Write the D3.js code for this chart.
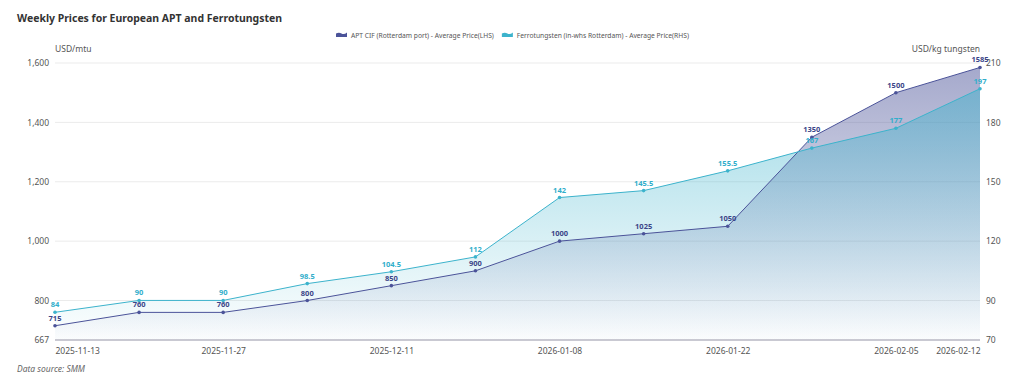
<!DOCTYPE html>
<html>
<head>
<meta charset="utf-8">
<script src="https://cdn.jsdelivr.net/npm/d3@7"></script>
<style>
body { margin: 0; background: #fff; }
svg { display: block; font-family: "Noto Sans", sans-serif; }
</style>
</head>
<body>
<div id="chart"></div>
<script>
// weekly dates (holiday weeks skipped)
var dates = ["2025-11-13", "2025-11-20", "2025-11-27", "2025-12-04", "2025-12-11", "2025-12-18",
	"2026-01-08", "2026-01-15", "2026-01-22", "2026-01-29", "2026-02-05", "2026-02-12"];
var aptPrices = [715, 760, 760, 800, 850, 900, 1000, 1025, 1050, 1350, 1500, 1585];
var ferroPrices = [84, 90, 90, 98.5, 104.5, 112, 142, 145.5, 155.5, 167, 177, 197];
var dateTicks = ["2025-11-13", "2025-11-27", "2025-12-11", "2026-01-08", "2026-01-22", "2026-02-05", "2026-02-12"];
var leftTicks = [667, 800, 1000, 1200, 1400, 1600];
var rightTicks = [70, 90, 120, 150, 180, 210];
var seriesNames = ["APT CIF (Rotterdam port) - Average Price(LHS)", "Ferrotungsten (in-whs Rotterdam) - Average Price(RHS)"];

var W = 1024, H = 385;
var margin = {left: 55, right: 44, top: 63, bottom: 45};
var width = W - margin.left - margin.right,
	height = H - margin.top - margin.bottom;

var aptColor = "#4b5399", ferroColor = "#3cb3cc";
var aptLabel = "#3b4588", ferroLabel = "#31aecb";

var svg = d3.select("#chart").append("svg")
	.attr("width", W)
	.attr("height", H);

var defs = svg.append("defs");
function grad(id, color, top) {
	var g = defs.append("linearGradient").attr("id", id)
		.attr("x1", 0).attr("y1", 0).attr("x2", 0).attr("y2", 1);
	g.append("stop").attr("offset", "0%").attr("stop-color", color).attr("stop-opacity", top);
	g.append("stop").attr("offset", "100%").attr("stop-color", color).attr("stop-opacity", 0.01);
}
grad("gApt", aptColor, 0.5);
grad("gFerro", ferroColor, 0.48);

// title
svg.append("text")
	.attr("x", 17).attr("y", 22)
	.attr("font-size", "11px")
	.attr("font-weight", "bold")
	.attr("fill", "#333")
	.attr("textLength", 265)
	.attr("lengthAdjust", "spacingAndGlyphs")
	.text("Weekly Prices for European APT and Ferrotungsten");

var canvas = svg.append("g")
	.attr("transform", "translate(" + margin.left + "," + margin.top + ")");

var x = d3.scalePoint().domain(dates).range([0, width]);
var yL = d3.scaleLinear().domain([667, 1600]).range([height, 0]);
var yR = d3.scaleLinear().domain([70, 210]).range([height, 0]);

// gridlines
canvas.selectAll(".grid")
	.data(leftTicks.slice(1))
	.enter().append("line")
	.attr("x1", 0).attr("x2", width)
	.attr("y1", function(d){ return yL(d); })
	.attr("y2", function(d){ return yL(d); })
	.attr("stroke", "#ebebeb");

// left axis
var yAxisL = d3.axisLeft(yL).tickValues(leftTicks).tickSize(0).tickPadding(6)
	.tickFormat(d3.format(","));
canvas.append("g").attr("class", "y axis").call(yAxisL)
	.call(function(g){ g.select(".domain").remove(); })
	.selectAll("text").attr("font-size", "8.5px").attr("fill", "#555").attr("font-family", "Noto Sans");

var yAxisR = d3.axisRight(yR).tickValues(rightTicks).tickSize(0).tickPadding(6);
canvas.append("g").attr("class", "y2 axis")
	.attr("transform", "translate(" + width + ",0)")
	.call(yAxisR)
	.call(function(g){ g.select(".domain").remove(); })
	.selectAll("text").attr("font-size", "8.5px").attr("fill", "#555").attr("font-family", "Noto Sans");

// axis names
canvas.append("text").attr("x", 0).attr("y", -11)
	.attr("font-size", "8.5px").attr("fill", "#555").text("USD/mtu");
canvas.append("text").attr("x", width).attr("y", -11)
	.attr("text-anchor", "end")
	.attr("font-size", "8.5px").attr("fill", "#555").text("USD/kg tungsten");

// areas
var aptArea = d3.area()
	.x(function(d, i){ return x(dates[i]); })
	.y0(height)
	.y1(function(d){ return yL(d); });
var ferroArea = d3.area()
	.x(function(d, i){ return x(dates[i]); })
	.y0(height)
	.y1(function(d){ return yR(d); });

canvas.append("path").datum(aptPrices)
	.attr("d", aptArea).attr("fill", "url(#gApt)");
canvas.append("path").datum(ferroPrices)
	.attr("d", ferroArea).attr("fill", "url(#gFerro)");

var aptLine = d3.line()
	.x(function(d, i){ return x(dates[i]); })
	.y(function(d){ return yL(d); });
var ferroLine = d3.line()
	.x(function(d, i){ return x(dates[i]); })
	.y(function(d){ return yR(d); });

canvas.append("path").datum(aptPrices)
	.attr("d", aptLine).attr("fill", "none").attr("stroke", aptColor).attr("stroke-width", 1);
canvas.append("path").datum(ferroPrices)
	.attr("d", ferroLine).attr("fill", "none").attr("stroke", ferroColor).attr("stroke-width", 1);

// x axis
canvas.append("line")
	.attr("x1", 0).attr("x2", width)
	.attr("y1", height).attr("y2", height)
	.attr("stroke", "#c9c9d2").attr("stroke-width", 2);

var xAxisCall = d3.axisBottom(x).tickValues(dateTicks).tickSize(0).tickPadding(8);
var xg = canvas.append("g").attr("class", "x axis")
	.attr("transform", "translate(0," + height + ")")
	.call(xAxisCall);
xg.select(".domain").remove();
xg.selectAll("text")
	.attr("font-size", "8.5px").attr("fill", "#555").attr("font-family", "Noto Sans")
	.attr("text-anchor", function(d, i){
		if (i == 0) return "start";
		if (i == dateTicks.length - 1) return "end";
		return "middle";
	});

// points and labels
function drawSeries(vals, yScale, color, labelColor, cls) {
	canvas.selectAll("circle." + cls)
		.data(vals).enter().append("circle")
		.attr("class", cls)
		.attr("cx", function(d, i){ return x(dates[i]); })
		.attr("cy", function(d){ return yScale(d); })
		.attr("r", 1.8)
		.attr("fill", color);
	canvas.selectAll("text." + cls)
		.data(vals).enter().append("text")
		.attr("class", cls)
		.attr("x", function(d, i){ return x(dates[i]); })
		.attr("y", function(d){ return yScale(d) - 5; })
		.attr("text-anchor", "middle")
		.attr("font-size", "7.5px")
		.attr("font-weight", "bold")
		.attr("fill", labelColor)
		.text(function(d){ return d; });
}
drawSeries(aptPrices, yL, aptColor, aptLabel, "apt");
drawSeries(ferroPrices, yR, ferroColor, ferroLabel, "ferro");

// legend
var legend = svg.append("g").attr("transform", "translate(336,32)");
var iconPath = "M0,5 L0,1.5 Q3,0 5.5,1.5 Q8,3 11,0.5 L11,5 Z";
var lx = 0;
seriesNames.forEach(function(name, i){
	var g = legend.append("g").attr("transform", "translate(" + lx + ",0)");
	g.append("path").attr("d", iconPath).attr("fill", i == 0 ? aptColor : ferroColor);
	var t = g.append("text").attr("x", 15).attr("y", 5.5)
		.attr("font-size", "6.7px").attr("fill", "#555").text(name);
	lx += 15 + t.node().getComputedTextLength() + 8;
});

// source
svg.append("text")
	.attr("x", 17).attr("y", 372)
	.attr("font-size", "8.5px")
	.attr("font-style", "italic")
	.attr("fill", "#666")
	.text("Data source:  SMM");
</script>
</body>
</html>
